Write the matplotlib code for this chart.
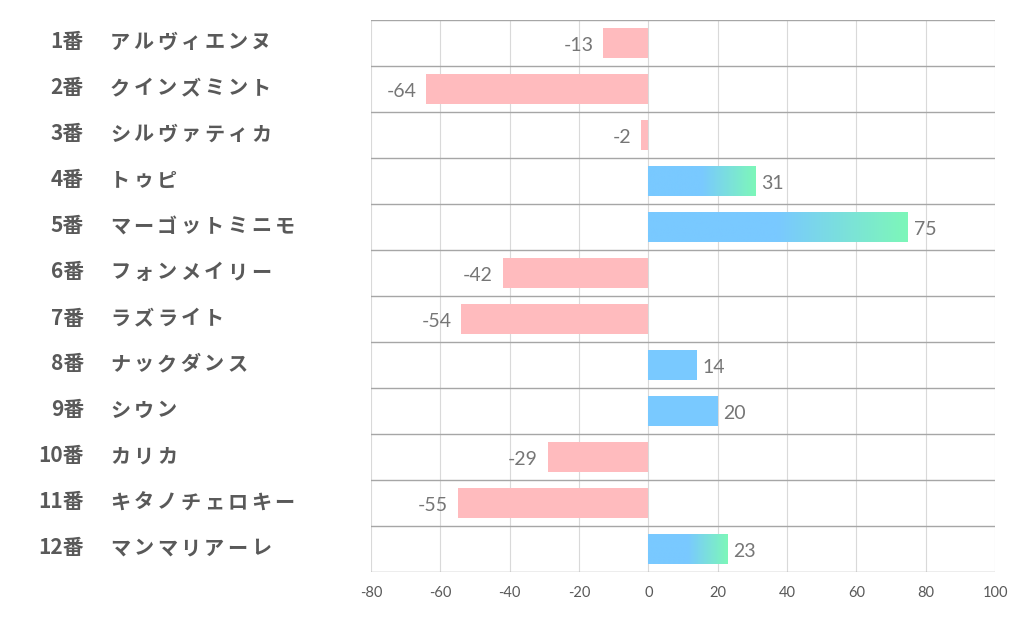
import matplotlib
matplotlib.use("Agg")
import matplotlib.pyplot as plt
import numpy as np
from matplotlib.colors import LinearSegmentedColormap

plt.rcParams['font.family'] = ['Noto Sans CJK JP', 'DejaVu Sans']

numbers = ["1番", "2番", "3番", "4番", "5番", "6番", "7番", "8番", "9番", "10番", "11番", "12番"]
names = ["アルヴィエンヌ", "クインズミント", "シルヴァティカ", "トゥピ", "マーゴットミニモ",
         "フォンメイリー", "ラズライト", "ナックダンス", "シウン", "カリカ", "キタノチェロキー", "マンマリアーレ"]
values = [-13, -64, -2, 31, 75, -42, -54, 14, 20, -29, -55, 23]
gradient_flags = [False, False, False, True, True, False, False, False, False, False, False, True]
xticks = [-80, -60, -40, -20, 0, 20, 40, 60, 80, 100]

PINK = "#FFBBBE"
BLUE = "#79C9FF"
GREEN = "#7DF7B9"
TEXT = "#595959"
VAL = "#767676"
NUMFONT = ['Lato', 'DejaVu Sans']

fig = plt.figure(figsize=(10.22, 6.26), dpi=100)
ax = fig.add_axes([371/1022, 1-572/626, (995-371)/1022, (572-20)/626])

n = len(values)
ax.set_xlim(-80, 100)
ax.set_ylim(n - 0.5, -0.5)

cmap = LinearSegmentedColormap.from_list("bg", [(0, BLUE), (0.5, BLUE), (1, GREEN)])
grad = np.linspace(0, 1, 256).reshape(1, -1)

for i, (v, g) in enumerate(zip(values, gradient_flags)):
    color = PINK if v < 0 else BLUE
    bars = ax.barh(i, v, height=0.65, color=color, zorder=2)
    if g and v > 0:
        patch = bars.patches[0]
        im = ax.imshow(grad, cmap=cmap, aspect='auto', extent=(0, v, i + 0.325, i - 0.325),
                       zorder=3, interpolation='bilinear')
        im.set_clip_path(patch)
    if v < 0:
        ax.annotate(str(v), (v, i), xytext=(-7, -1.5), textcoords='offset points',
                    ha='right', va='center', fontsize=14, color=VAL, family=NUMFONT)
    else:
        ax.annotate(str(v), (v, i), xytext=(4, -1.5), textcoords='offset points',
                    ha='left', va='center', fontsize=14, color=VAL, family=NUMFONT)

ax.set_xticks(xticks)
ax.set_xticklabels([str(t) for t in xticks], fontsize=10.5, color=TEXT, family=NUMFONT)
ax.tick_params(axis='x', length=0, pad=10)
ax.set_yticks([])

for x in xticks:
    ax.axvline(x, color="#d9d9d9", lw=0.8, zorder=1)
for k in range(n + 1):
    ax.axhline(k - 0.5, color="#a6a6a6", lw=1.0, zorder=1)

for s in ax.spines.values():
    s.set_visible(False)

pitch = 23.5
for i in range(n):
    yfig = 1 - (20 + 46 * i + 22) / 626
    fig.text(84/1022, yfig, numbers[i], ha='right', va='center', fontsize=15,
             fontweight='bold', color=TEXT)
    for j, ch in enumerate(names[i]):
        fig.text((110 + pitch * j)/1022, yfig, ch, ha='left', va='center', fontsize=14.5,
                 fontweight='bold', color=TEXT)

fig.savefig("out.png", dpi=100)
